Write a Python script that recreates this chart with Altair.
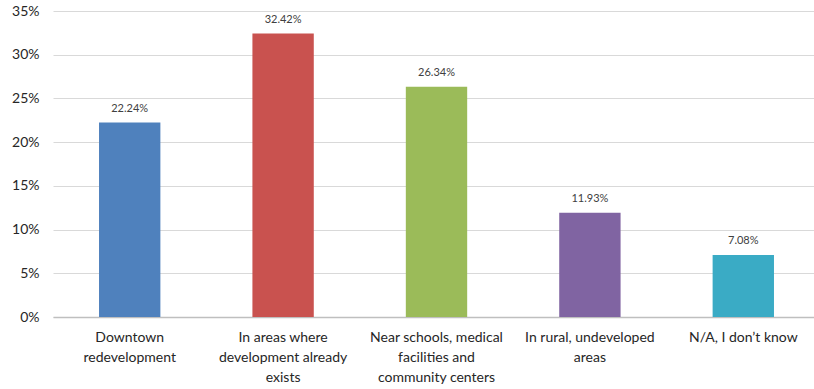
import altair as alt
import pandas as pd

# Survey answers: where new development should happen
categories = [
    "Downtown\nredevelopment",
    "In areas where\ndevelopment already\nexists",
    "Near schools, medical\nfacilities and\ncommunity centers",
    "In rural, undeveloped\nareas",
    "N/A, I don\u2019t know",
]
shares = [0.2224, 0.3242, 0.2634, 0.1193, 0.0708]
colors = ["#4F81BD", "#C9524F", "#9BBB59", "#8064A2", "#3AABC5"]

df = pd.DataFrame({"category": categories, "share": shares})
df["label"] = [f"{v * 100:.2f}%" for v in shares]

FONT = "Lato"

x = alt.X(
    "category:N",
    sort=categories,
    title=None,
    scale=alt.Scale(paddingInner=0.6, paddingOuter=0.3, range=[0, 767]),
    axis=alt.Axis(
        labelAngle=0,
        labelExpr="split(datum.value, '\\n')",
        labelFont=FONT,
        labelFontSize=14,
        labelColor="#262626",
        labelLineHeight=20,
        labelPadding=13,
        labelLimit=200,
        ticks=False,
        domainColor="#BFBFBF",
        domainWidth=1.5,
        grid=False,
    ),
)

bars = alt.Chart(df).mark_bar().encode(
    x=x,
    y=alt.Y(
        "share:Q",
        title=None,
        scale=alt.Scale(domain=[0, 0.35], nice=False),
        axis=alt.Axis(
            values=[0, 0.05, 0.1, 0.15, 0.2, 0.25, 0.3, 0.35],
            format=".0%",
            labelFont=FONT,
            labelFontSize=14,
            labelColor="#262626",
            labelPadding=14,
            ticks=False,
            domain=False,
            gridColor="#D9D9D9",
            gridWidth=1,
        ),
    ),
    color=alt.Color("category:N", sort=categories,
                    scale=alt.Scale(domain=categories, range=colors), legend=None),
)

labels = alt.Chart(df).mark_text(
    dy=-9, font=FONT, fontSize=11, color="#404040", baseline="bottom"
).encode(x=alt.X("category:N", sort=categories), y="share:Q", text="label:N")

chart = (
    alt.layer(bars, labels)
    .properties(
        width=761,
        height=306,
        autosize=alt.AutoSizeParams(type="none"),
        padding={"left": 53, "top": 11, "right": 0, "bottom": 72},
    )
    .configure_view(stroke=None)
)

chart.save("out.html", embed_options={"renderer": "svg", "actions": False})
